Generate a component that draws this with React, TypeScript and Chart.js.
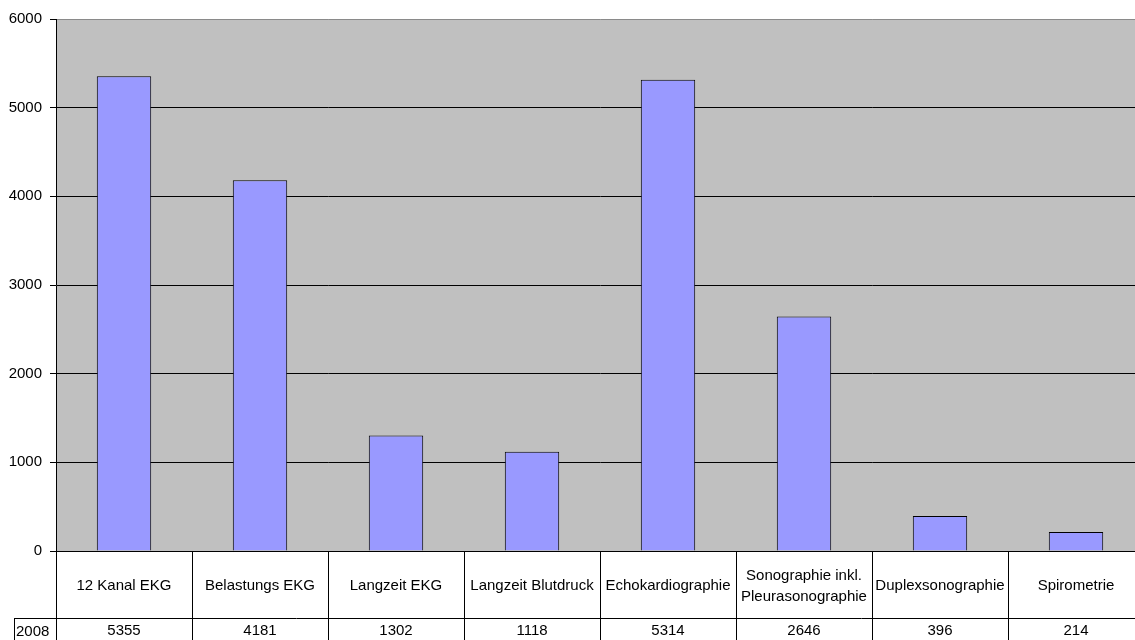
import React, { useEffect, useRef } from "react";
import { Chart, registerables } from "chart.js";

Chart.register(...registerables);

const categories: string[][] = [
  ["12 Kanal EKG"],
  ["Belastungs EKG"],
  ["Langzeit EKG"],
  ["Langzeit Blutdruck"],
  ["Echokardiographie"],
  ["Sonographie inkl.", "Pleurasonographie"],
  ["Duplexsonographie"],
  ["Spirometrie"],
];
const seriesName = "2008";
const values2008 = [5355, 4181, 1302, 1118, 5314, 2646, 396, 214];
const yTicks = [0, 1000, 2000, 3000, 4000, 5000, 6000];

const FONT = '15px "Liberation Sans", Arial, sans-serif';

const tablePlugin = {
  id: "excelTable",
  beforeDraw(chart: any) {
    const { ctx, chartArea } = chart;
    ctx.save();
    ctx.fillStyle = "#C0C0C0";
    ctx.fillRect(chartArea.left, chartArea.top, chartArea.right - chartArea.left, chartArea.bottom - chartArea.top);
    ctx.restore();
  },
  afterDraw(chart: any) {
    const { ctx, chartArea } = chart;
    const xs = chart.scales.x;
    const n = categories.length;
    const top = chartArea.bottom;
    const rowLine = top + 67;
    const bottom = chart.height;
    const bounds: number[] = [];
    for (let i = 0; i <= n; i++) {
      if (i === 0) bounds.push(chartArea.left);
      else if (i === n) bounds.push(xs.getPixelForValue(n - 1) * 2 - (xs.getPixelForValue(n - 1) + xs.getPixelForValue(n - 2)) / 2);
      else bounds.push((xs.getPixelForValue(i - 1) + xs.getPixelForValue(i)) / 2);
    }
    ctx.save();
    ctx.strokeStyle = "#000";
    ctx.lineWidth = 1;
    ctx.beginPath();
    for (const b of bounds) {
      const x = Math.round(b) + 0.5;
      ctx.moveTo(x, top);
      ctx.lineTo(x, bottom);
    }
    const hy = Math.round(rowLine) + 0.5;
    ctx.moveTo(14, hy);
    ctx.lineTo(chart.width, hy);
    ctx.moveTo(14.5, hy);
    ctx.lineTo(14.5, bottom);
    ctx.stroke();

    ctx.fillStyle = "#000";
    ctx.font = FONT;
    ctx.textAlign = "center";
    ctx.textBaseline = "alphabetic";
    for (let i = 0; i < n; i++) {
      const cx = (bounds[i] + bounds[i + 1]) / 2;
      const lines = categories[i];
      if (lines.length === 1) {
        ctx.fillText(lines[0], cx, top + 39);
      } else {
        ctx.fillText(lines[0], cx, top + 29);
        ctx.fillText(lines[1], cx, top + 50);
      }
      ctx.fillText(String(values2008[i]), cx, rowLine + 17);
    }
    ctx.textAlign = "left";
    ctx.fillText(seriesName, 16, rowLine + 18);
    ctx.restore();
  },
};

export default function App() {
  const ref = useRef<HTMLCanvasElement | null>(null);
  useEffect(() => {
    if (!ref.current) return;
    const chart = new Chart(ref.current, {
      type: "bar",
      data: {
        labels: categories.map((c) => c.join(" ")),
        datasets: [
          {
            label: seriesName,
            data: values2008,
            backgroundColor: "#9999FF",
            borderColor: "#000000",
            borderWidth: 1,
            barPercentage: 0.4,
            categoryPercentage: 1,
          },
        ],
      },
      options: {
        responsive: false,
        animation: false,
        devicePixelRatio: 1,
        layout: { padding: { top: 19, bottom: 99, left: 0, right: 0 } },
        plugins: { legend: { display: false }, tooltip: { enabled: false } },
        scales: {
          x: { display: false },
          y: {
            min: 0,
            max: 6000,
            afterFit: (s: any) => {
              s.width = 56;
            },
            afterBuildTicks: (s: any) => {
              s.ticks = yTicks.map((v) => ({ value: v }));
            },
            ticks: {
              color: "#000",
              font: { family: '"Liberation Sans", Arial, sans-serif', size: 15 },
              padding: 8,
              callback: (v: any) => String(v),
            },
            grid: {
              color: (c: any) => (c.tick && c.tick.value === 6000 ? "#8a8a8a" : "#000"),
              tickColor: "#000",
              tickLength: 6,
            },
            border: { display: true, color: "#000", width: 1 },
          },
        },
      },
      plugins: [tablePlugin],
    });
    return () => chart.destroy();
  }, []);
  return (
    <div style={{ position: "fixed", left: 0, top: 0, width: 1135, height: 640, overflow: "hidden", background: "#fff" }}>
      <canvas ref={ref} width={1144} height={650} style={{ display: "block", width: 1144, height: 650 }} />
    </div>
  );
}
